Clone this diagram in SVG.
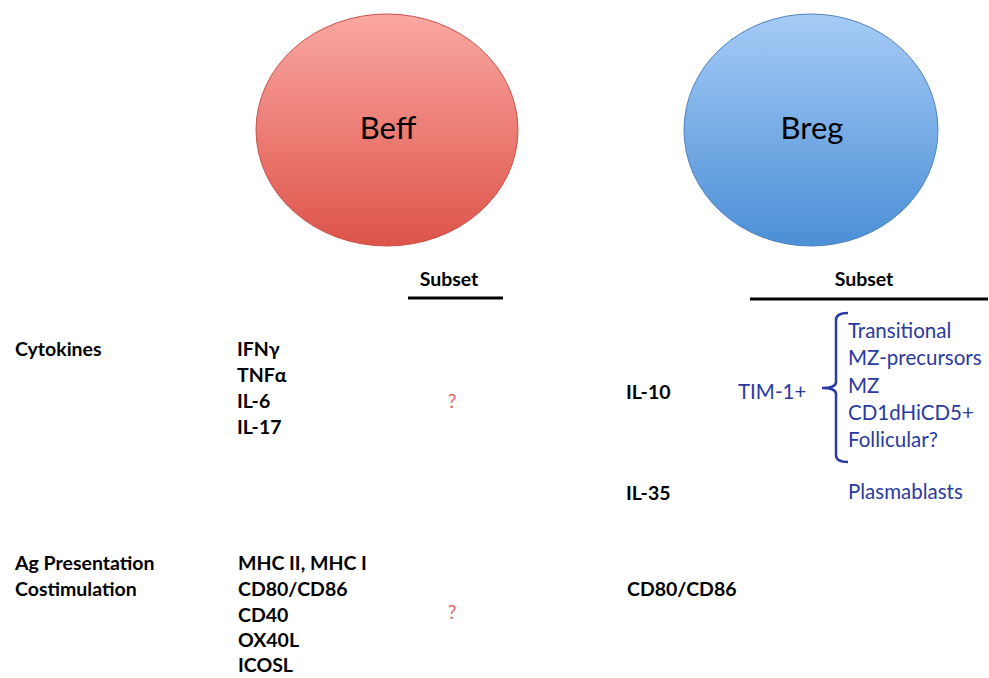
<svg xmlns="http://www.w3.org/2000/svg" width="989" height="678" viewBox="0 0 989 678">
<defs>
<linearGradient id="gRed" x1="0" y1="0" x2="0" y2="1">
<stop offset="0" stop-color="#faa7a2"/>
<stop offset="1" stop-color="#dd5449"/>
</linearGradient>
<linearGradient id="gBlue" x1="0" y1="0" x2="0" y2="1">
<stop offset="0" stop-color="#a6cbf6"/>
<stop offset="1" stop-color="#4b8fd6"/>
</linearGradient>
</defs>
<style>
text{font-family:Lato,"Open Sans","Liberation Sans",sans-serif;font-size:19.5px;font-weight:bold;fill:#000}
.big{font-size:31px;font-weight:normal}
.blue{fill:#2b3aa0;font-weight:normal;font-size:20.5px}
.q{fill:#e06a64;font-weight:normal}
.rule{stroke:#000;stroke-width:3}
</style>
<rect width="989" height="678" fill="#fff"/>
<g id="beff">
<ellipse cx="387" cy="130" rx="131" ry="116" fill="url(#gRed)" stroke="#c9524a" stroke-width="1"/>
<text class="big" x="388" y="139" text-anchor="middle">Beff</text>
</g>
<g id="breg">
<ellipse cx="811" cy="130" rx="127" ry="116" fill="url(#gBlue)" stroke="#4f82bf" stroke-width="1"/>
<text class="big" x="812" y="139" text-anchor="middle">Breg</text>
</g>
<g id="subset-left">
<text x="449" y="286" text-anchor="middle">Subset</text>
<line class="rule" x1="408" y1="298" x2="503" y2="298"/>
</g>
<g id="subset-right">
<text x="864" y="286" text-anchor="middle">Subset</text>
<line class="rule" x1="750" y1="299" x2="988" y2="299"/>
</g>
<g id="cytokines">
<text x="15" y="356">Cytokines</text>
<text x="237" y="356">IFNγ</text>
<text x="237" y="382">TNFα</text>
<text x="237" y="408">IL-6</text>
<text x="237" y="434">IL-17</text>
<text class="q" x="452" y="408" text-anchor="middle">?</text>
</g>
<g id="ag">
<text x="15" y="570">Ag Presentation</text>
<text x="15" y="596">Costimulation</text>
<text x="238" y="570">MHC II, MHC I</text>
<text x="238" y="596">CD80/CD86</text>
<text x="238" y="622">CD40</text>
<text x="238" y="647">OX40L</text>
<text x="238" y="672">ICOSL</text>
<text class="q" x="452" y="619" text-anchor="middle">?</text>
</g>
<g id="breg-cyto">
<text x="626" y="399">IL-10</text>
<text class="blue" x="738" y="399">TIM-1+</text>
<text x="626" y="500">IL-35</text>
<text class="blue" x="848" y="499">Plasmablasts</text>
<text x="627" y="596">CD80/CD86</text>
</g>
<g id="subsets">
<text class="blue" x="848" y="338">Transitional</text>
<text class="blue" x="848" y="365">MZ-precursors</text>
<text class="blue" x="848" y="393">MZ</text>
<text class="blue" x="848" y="420">CD1dHiCD5+</text>
<text class="blue" x="848" y="447">Follicular?</text>
</g>
<g id="connectors">
<path d="M848,313 Q836,313 836,320 L836,382 Q836,388 822,388 Q836,388 836,394 L836,455 Q836,462 848,462" fill="none" stroke="#2b3aa0" stroke-width="2.5"/>
</g>
</svg>
